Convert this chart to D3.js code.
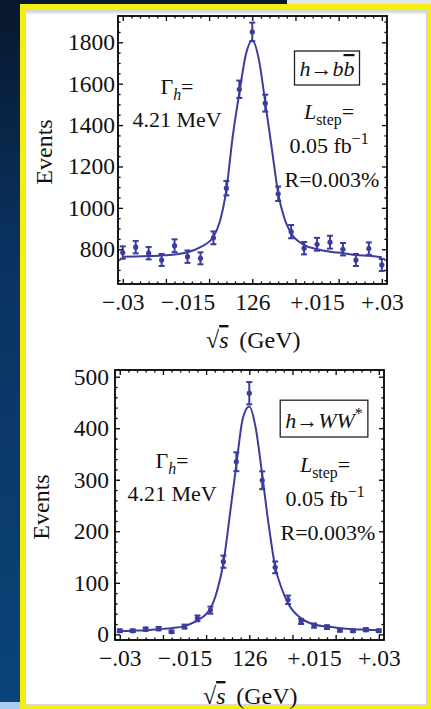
<!DOCTYPE html>
<html>
<head>
<meta charset="UTF-8">
<style>
  body { margin: 0; overflow: hidden; background: #fff; }
  svg { display: block; font-family: "Liberation Serif", "Times New Roman", serif; }
  .frame { fill: none; stroke: #000; stroke-width: 1.8; }
  .ticks .domain { display: none; }
  .ticks line { stroke: #000; stroke-width: 1.3; }
  .labels .domain, .labels line { display: none; }
  .labels text { font-family: "Liberation Serif", serif; font-size: 23.5px; fill: #111; }
  .note { fill: #111; font-family: "Liberation Serif", serif; }
</style>
<script src="https://d3js.org/d3.v7.min.js"></script>
</head>
<body>
<svg id="chart"></svg>
<script>
// offsets from 126 GeV (GeV) of the scan points
const offsets = [-0.030, -0.027, -0.024, -0.021, -0.018, -0.015, -0.012, -0.009, -0.006, -0.003, 0,
                 0.003, 0.006, 0.009, 0.012, 0.015, 0.018, 0.021, 0.024, 0.027, 0.030]

const bbEvents = [784, 810, 781, 748, 817, 764, 756, 855, 1095, 1573, 1850, 1506, 1068, 885, 805, 824, 834, 800, 748, 803, 724]
const bbErrors = [30, 30, 30, 29, 31, 30, 29, 31, 35, 42, 45, 41, 35, 32, 30, 31, 31, 30, 29, 30, 29]

const wwEvents = [7, 7, 10, 11, 5, 15, 31, 47, 141, 335, 468, 299, 130, 67, 25, 17, 14, 8, 7, 9, 7]
const wwErrors = [2.6, 2.6, 3.2, 3.3, 2.2, 3.9, 5.6, 6.9, 11.9, 18.3, 21.6, 17.3, 11.4, 8.2, 5, 4.1, 3.7, 2.8, 2.6, 3, 2.6]

// fitted line
const fitOffsets = [-0.030, -0.027, -0.024, -0.021, -0.018, -0.015, -0.012, -0.009, -0.0075, -0.006, -0.0045, -0.003, -0.0015, 0,
                    0.0015, 0.003, 0.0045, 0.006, 0.0075, 0.009, 0.012, 0.015, 0.018, 0.021, 0.024, 0.027, 0.030]
const bbFit = [764, 765, 767, 770, 775, 785, 810, 860, 935, 1087, 1350, 1555, 1740, 1810,
               1720, 1510, 1290, 1070, 945, 877, 821, 800, 788, 781, 772, 768, 761]
const wwFit = [6, 7, 8, 10, 12, 16, 27, 50, 83, 138, 232, 329, 419, 442,
               400, 309, 212, 131, 89, 60, 31, 19, 15, 12, 10, 9, 8]

const xLabelValues = [-0.03, -0.015, 0, 0.015, 0.03]
const xLabels = ['\u2212.03', '\u2212.015', '126', '+.015', '+.03']
const bbYTicks = [800, 1000, 1200, 1400, 1600, 1800]
const wwYTicks = [0, 100, 200, 300, 400, 500]

const blue = '#3c3c9e'
const width = 431
const height = 709

const svg = d3.select('#chart').attr('width', width).attr('height', height)

function drawBackground() {
  let defs = svg.append('defs')
  let grad = defs.append('linearGradient').attr('id', 'side').attr('x1', 0).attr('y1', 0).attr('x2', 0).attr('y2', 1)
  grad.append('stop').attr('offset', '0%').attr('stop-color', '#08172d')
  grad.append('stop').attr('offset', '35%').attr('stop-color', '#0a3260')
  grad.append('stop').attr('offset', '100%').attr('stop-color', '#0a4479')

  let shade = defs.append('linearGradient').attr('id', 'shade').attr('x1', 0).attr('y1', 0).attr('x2', 0).attr('y2', 1)
  shade.append('stop').attr('offset', '0%').attr('stop-color', '#c8c8c8')
  shade.append('stop').attr('offset', '100%').attr('stop-color', '#ffffff')

  svg.append('rect').attr('width', width).attr('height', height).attr('fill', 'url(#side)')
  svg.append('rect').attr('x', 287).attr('width', width - 287).attr('height', 6).attr('fill', '#e4e6ea')
  svg.append('rect').attr('y', 702).attr('width', 22).attr('height', 7).attr('fill', '#a9cdee')

  svg.append('rect').attr('x', 20).attr('y', 4).attr('width', 411).attr('height', 705).attr('fill', '#f4ef10')
  svg.append('rect').attr('x', 25).attr('y', 10).attr('width', 402).attr('height', 695).attr('fill', '#fff')
  svg.append('rect').attr('x', 25).attr('y', 10).attr('width', 402).attr('height', 5).attr('fill', 'url(#shade)')
  svg.append('rect').attr('x', 25.5).attr('y', 10.5).attr('width', 401).attr('height', 694)
    .attr('fill', 'none').attr('stroke', '#d4d4d4').attr('stroke-width', 1)
}

function richText(g, x, y, parts, size) {
  let t = g.append('text')
    .attr('class', 'note')
    .attr('x', x)
    .attr('y', y)
    .attr('text-anchor', 'middle')
    .style('font-size', size + 'px')
  let shift = 0
  parts.forEach(p => {
    let target = p.sub ? size * 0.25 : p.sup ? -size * 0.4 : 0
    let s = t.append('tspan').text(p.t).attr('dy', target - shift)
    shift = target
    if (p.sub || p.sup) s.style('font-size', (size * 0.72) + 'px')
    if (p.italic) s.style('font-style', 'italic')
    if (p.over) s.style('text-decoration', 'overline')
  })
  return t
}

function drawPanel(p) {
  let x = d3.scaleLinear().domain([-0.0311, 0.0312]).range([p.left, p.right])
  let y = d3.scaleLinear().domain(p.yDomain).range([p.bottom, p.top])
  let g = svg.append('g')

  let line = d3.line()
    .x(d => x(d[0]))
    .y(d => y(d[1]))
    .curve(d3.curveMonotoneX)

  g.append('path')
    .datum(fitOffsets.map((d, i) => [d, p.fit[i]]))
    .attr('d', line)
    .attr('fill', 'none')
    .attr('stroke', blue)
    .attr('stroke-width', 2)

  let points = offsets.map((d, i) => ({ x: d, v: p.events[i], e: p.errors[i] }))
  let bars = g.append('g').attr('stroke', blue).attr('stroke-width', 2)
  bars.selectAll('line.bar')
    .data(points)
    .join('line')
    .attr('x1', d => x(d.x)).attr('x2', d => x(d.x))
    .attr('y1', d => y(d.v - d.e)).attr('y2', d => y(d.v + d.e))
  bars.selectAll('line.lo')
    .data(points)
    .join('line').attr('class', 'lo')
    .attr('x1', d => x(d.x) - 3).attr('x2', d => x(d.x) + 3)
    .attr('y1', d => y(d.v - d.e)).attr('y2', d => y(d.v - d.e))
  bars.selectAll('line.hi')
    .data(points)
    .join('line').attr('class', 'hi')
    .attr('x1', d => x(d.x) - 3).attr('x2', d => x(d.x) + 3)
    .attr('y1', d => y(d.v + d.e)).attr('y2', d => y(d.v + d.e))
  g.append('g').selectAll('circle')
    .data(points)
    .join('circle')
    .attr('cx', d => x(d.x))
    .attr('cy', d => y(d.v))
    .attr('r', 2.6)
    .attr('fill', blue)

  // frame ticks, pointing inwards on all four sides
  let xMajor = d3.range(-30, 31, 10).map(d => d / 1000)
  let xMinor = d3.range(-30, 31, 2).filter(d => d % 10 !== 0).map(d => d / 1000)
  let yMajor = d3.range(p.yMajor[0], p.yMajor[1] + 1, p.yMajor[2])
  let yMinor = d3.range(p.yMinor[0], p.yMinor[1] + 1, p.yMinor[2]).filter(d => !yMajor.includes(d))

  let sides = [
    [d3.axisBottom(x), `translate(0,${p.bottom})`, xMajor, xMinor],
    [d3.axisTop(x), `translate(0,${p.top})`, xMajor, xMinor],
    [d3.axisLeft(y), `translate(${p.left},0)`, yMajor, yMinor],
    [d3.axisRight(y), `translate(${p.right},0)`, yMajor, yMinor],
  ]
  sides.forEach(([axis, tr, major, minor]) => {
    g.append('g').attr('class', 'ticks').attr('transform', tr)
      .call(axis.tickValues(major).tickSize(-5).tickFormat(''))
    g.append('g').attr('class', 'ticks').attr('transform', tr)
      .call(axis.tickValues(minor).tickSize(-2.6).tickFormat(''))
  })

  g.append('rect')
    .attr('class', 'frame')
    .attr('x', p.left).attr('y', p.top)
    .attr('width', p.right - p.left).attr('height', p.bottom - p.top)

  g.append('g').attr('class', 'labels')
    .attr('transform', `translate(0,${p.bottom})`)
    .call(d3.axisBottom(x).tickValues(xLabelValues).tickFormat((d, i) => xLabels[i]).tickSize(0).tickPadding(9))
  g.append('g').attr('class', 'labels')
    .attr('transform', `translate(${p.left},0)`)
    .call(d3.axisLeft(y).tickValues(p.yTicks).tickFormat(d3.format('d')).tickSize(0).tickPadding(p.yPad))

  g.append('text')
    .attr('class', 'note')
    .attr('transform', `translate(${p.eventsX},${(p.top + p.bottom) / 2 + 2}) rotate(-90)`)
    .attr('text-anchor', 'middle')
    .style('font-size', '24px')
    .text('Events')

  richText(g, x(0) + 1, p.bottom + 64, [{ t: '\u221A' }, { t: 's', italic: true, over: true }, { t: '\u2009 (GeV)' }], 24)

  let a = p.notes
  richText(g, a.gx, a.gy, [{ t: '\u0393' }, { t: 'h', italic: true, sub: true }, { t: '=' }], 22)
  richText(g, a.gx, a.gy + 33, [{ t: '4.21 MeV' }], 22)

  let label = richText(g, a.bx, a.by, p.decay, 22)
  let box = label.node().getBBox()
  g.append('rect')
    .attr('x', box.x - 5).attr('y', box.y - 5)
    .attr('width', box.width + 10).attr('height', box.height + 9)
    .attr('fill', 'none').attr('stroke', '#222').attr('stroke-width', 1.3)

  richText(g, a.lx, a.ly, [{ t: 'L', italic: true }, { t: 'step', sub: true }, { t: '=' }], 22)
  richText(g, a.lx, a.ly + 34, [{ t: '0.05 fb' }, { t: '\u22121', sup: true }], 22)
  richText(g, a.lx + 3, a.ly + 68, [{ t: 'R=0.003%' }], 22)
}

drawBackground()

drawPanel({
  left: 118, right: 387, top: 16, bottom: 284,
  yDomain: [632, 1927],
  yMajor: [800, 1800, 200], yMinor: [650, 1900, 50],
  yTicks: bbYTicks, yPad: 3,
  events: bbEvents, errors: bbErrors, fit: bbFit,
  eventsX: 52,
  decay: [{ t: 'h', italic: true }, { t: '\u2192' }, { t: 'b', italic: true }, { t: 'b', italic: true, over: true }],
  notes: { gx: 177, gy: 94, bx: 327, by: 76, lx: 329, ly: 119 },
})

drawPanel({
  left: 115, right: 384, top: 370, bottom: 640,
  yDomain: [-11, 513],
  yMajor: [0, 500, 100], yMinor: [0, 500, 20],
  yTicks: wwYTicks, yPad: 6,
  events: wwEvents, errors: wwErrors, fit: wwFit,
  eventsX: 49,
  decay: [{ t: 'h', italic: true }, { t: '\u2192' }, { t: 'WW', italic: true }, { t: '*', sup: true }],
  notes: { gx: 172, gy: 468, bx: 324, by: 428, lx: 325, ly: 472 },
})
</script>
</body>
</html>
